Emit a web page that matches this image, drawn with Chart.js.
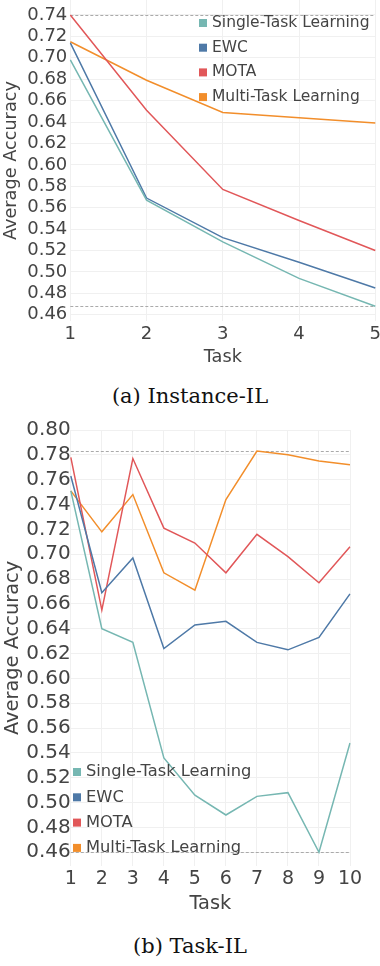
<!DOCTYPE html>
<html>
<head>
<meta charset="utf-8">
<script src="https://cdn.jsdelivr.net/npm/chart.js@4.4.1/dist/chart.umd.min.js"></script>
<style>
    html, body { margin: 0; padding: 0; background: #fff; width: 380px; height: 966px; overflow: hidden; position: relative; }
    .box { position: absolute; left: 0; }
    #boxA { top: 0; width: 383px; height: 368px; }
    #boxB { top: 418px; width: 380px; height: 498px; }
    .cap { position: absolute; left: 0; width: 380px; text-align: center; font-family: "DejaVu Serif", serif; font-size: 21px; color: #111; }
</style>
</head>
<body>
<div class="box" id="boxA"><canvas id="chartA"></canvas></div>
<div class="cap" style="top:384px">(a) Instance-IL</div>
<div class="box" id="boxB"><canvas id="chartB"></canvas></div>
<div class="cap" style="top:934px">(b) Task-IL</div>
<script>
// ---- data ----
const seriesNames = ['Single-Task Learning', 'EWC', 'MOTA', 'Multi-Task Learning'];
const seriesColors = ['#76b7b2', '#4e79a7', '#e15759', '#f28e2b'];

// (a) Instance-IL
const tasksA = ['1', '2', '3', '4', '5'];
const singleA = [0.698, 0.567, 0.528, 0.494, 0.468];
const ewcA = [0.714, 0.569, 0.532, 0.509, 0.485];
const motaA = [0.740, 0.651, 0.577, 0.548, 0.520];
const multiA = [0.715, 0.679, 0.649, 0.644, 0.639];
const yTicksA = [0.46, 0.48, 0.50, 0.52, 0.54, 0.56, 0.58, 0.60, 0.62, 0.64, 0.66, 0.68, 0.70, 0.72, 0.74];

// (b) Task-IL
const tasksB = ['1', '2', '3', '4', '5', '6', '7', '8', '9', '10'];
const singleB = [0.751, 0.640, 0.629, 0.536, 0.506, 0.490, 0.505, 0.508, 0.460, 0.548];
const ewcB = [0.763, 0.669, 0.697, 0.624, 0.643, 0.646, 0.629, 0.623, 0.633, 0.668];
const motaB = [0.778, 0.655, 0.777, 0.721, 0.709, 0.685, 0.716, 0.698, 0.677, 0.706];
const multiB = [0.751, 0.718, 0.748, 0.685, 0.671, 0.744, 0.783, 0.780, 0.775, 0.772];
const yTicksB = [0.46, 0.48, 0.50, 0.52, 0.54, 0.56, 0.58, 0.60, 0.62, 0.64, 0.66, 0.68, 0.70, 0.72, 0.74, 0.76, 0.78, 0.80];

const FONT = '"DejaVu Sans", sans-serif';
const TEXT = '#444';

// dashed max/min lines + in-plot legend
const extrasPlugin = {
    id: 'extras',
    beforeDatasetsDraw(chart) {
        const { ctx, chartArea, scales } = chart;
        const all = chart.data.datasets.flatMap(d => d.data);
        ctx.save();
        ctx.strokeStyle = '#aaaaaa';
        ctx.lineWidth = 1;
        ctx.setLineDash([3, 2]);
        [Math.max(...all), Math.min(...all)].forEach(v => {
            const py = Math.round(scales.y.getPixelForValue(v)) + 0.5;
            ctx.beginPath();
            ctx.moveTo(chartArea.left, py);
            ctx.lineTo(chartArea.right, py);
            ctx.stroke();
        });
        ctx.restore();
    },
    afterDatasetsDraw(chart, args, opts) {
        const { ctx } = chart;
        ctx.save();
        ctx.font = opts.size + 'px ' + FONT;
        ctx.textBaseline = 'middle';
        chart.data.datasets.forEach((ds, i) => {
            const yy = opts.y + i * opts.gap;
            ctx.fillStyle = ds.borderColor;
            ctx.fillRect(opts.x, yy - 4, 8, 8);
            ctx.fillStyle = TEXT;
            ctx.fillText(ds.label, opts.x + 13, yy);
        });
        ctx.restore();
    }
};

function makeDatasets(values) {
    return values.map((data, i) => ({
        label: seriesNames[i],
        data: data,
        borderColor: seriesColors[i],
        backgroundColor: seriesColors[i],
        borderWidth: 1.5,
        pointRadius: 0,
        tension: 0,
        fill: false
    }));
}

function makeChart(id, labels, values, yTicks, cfg) {
    return new Chart(document.getElementById(id), {
        type: 'line',
        data: { labels: labels, datasets: makeDatasets(values) },
        plugins: [extrasPlugin],
        options: {
            responsive: true,
            maintainAspectRatio: false,
            animation: false,
            layout: { padding: cfg.padding },
            plugins: {
                legend: { display: false },
                tooltip: { enabled: false },
                extras: cfg.legend
            },
            scales: {
                x: {
                    grid: { color: '#f0f0f0', drawTicks: false },
                    border: { display: false },
                    ticks: { color: TEXT, font: { family: FONT, size: cfg.xTick }, padding: 2, maxRotation: 0, autoSkip: false },
                    title: { display: true, text: 'Task', color: TEXT, font: { family: FONT, size: cfg.title }, padding: { top: 0, bottom: 0 } }
                },
                y: {
                    min: cfg.yMin,
                    max: cfg.yMax,
                    grid: { color: '#f0f0f0', drawTicks: false },
                    border: { display: false },
                    afterBuildTicks: (scale) => { scale.ticks = yTicks.map(v => ({ value: v })); },
                    afterFit: cfg.noTopPad ? (scale) => { scale.paddingTop = 0; } : undefined,
                    ticks: { color: TEXT, font: { family: FONT, size: cfg.yTick }, padding: cfg.yPad, autoSkip: false, callback: v => v.toFixed(2) },
                    title: { display: true, text: 'Average Accuracy', color: TEXT, font: { family: FONT, size: cfg.title }, padding: { top: 1, bottom: 2 } }
                }
            }
        }
    });
}

makeChart('chartA', tasksA, [singleA, ewcA, motaA, multiA], yTicksA, {
    yMin: 0.454, yMax: 0.754, padding: { right: 0 }, noTopPad: true,
    xTick: 18, yTick: 18, yPad: 3, title: 17.7,
    legend: { x: 199, y: 23, gap: 24.7, size: 15.5 }
});

makeChart('chartB', tasksB, [singleB, ewcB, motaB, multiB], yTicksB, {
    yMin: 0.449, yMax: 0.80, padding: { right: 30 }, noTopPad: false,
    xTick: 19, yTick: 20, yPad: 0, title: 19.4,
    legend: { x: 73, y: 354, gap: 25.3, size: 16.3 }
});
</script>
</body>
</html>
